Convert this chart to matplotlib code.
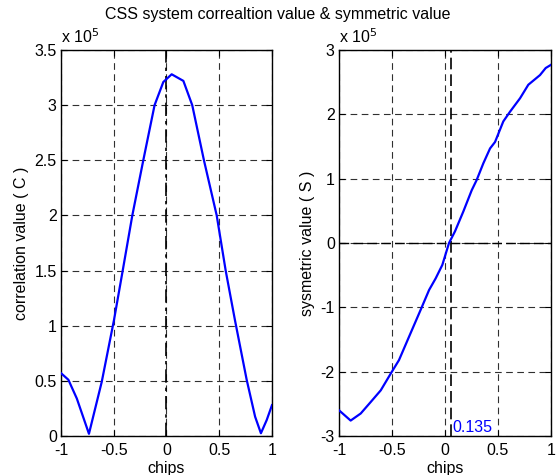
import numpy as np
import matplotlib
matplotlib.use("Agg")
import matplotlib.pyplot as plt

# correlation value C (units of 1e5) vs chip offset
corr_x = [-1.0, -0.93, -0.85, -0.735, -0.614, -0.498, -0.415, -0.324, -0.22, -0.113,
          -0.03, 0.049, 0.16, 0.244, 0.355, 0.476, 0.561, 0.649, 0.76, 0.84,
          0.895, 0.95, 1.0]
corr_y = [0.57, 0.51, 0.34, 0.02, 0.49, 1.05, 1.50, 2.00, 2.50, 3.00,
          3.21, 3.28, 3.22, 3.00, 2.50, 2.00, 1.50, 1.05, 0.51, 0.175,
          0.025, 0.145, 0.28]

# symmetric value S (units of 1e5) vs chip offset
sym_x = [-1.0, -0.89, -0.795, -0.70, -0.606, -0.512, -0.434, -0.34, -0.23, -0.15,
         -0.088, -0.025, 0.038, 0.094, 0.173, 0.252, 0.299, 0.362, 0.425, 0.472,
         0.55, 0.613, 0.708, 0.786, 0.896, 0.95, 1.0]
sym_y = [-2.60, -2.76, -2.65, -2.47, -2.29, -2.03, -1.82, -1.46, -1.04, -0.73,
         -0.55, -0.34, 0.0, 0.18, 0.49, 0.82, 0.98, 1.24, 1.47, 1.57,
         1.89, 2.04, 2.25, 2.46, 2.61, 2.72, 2.77]

marker_x = 0.054
marker_label = "0.135"

corr_ticks = [0, 0.5, 1, 1.5, 2, 2.5, 3, 3.5]
sym_ticks = [-3, -2, -1, 0, 1, 2, 3]
x_ticks = [-1, -0.5, 0, 0.5, 1]

plt.rcParams["font.family"] = ["Liberation Sans", "DejaVu Sans"]
plt.rcParams["font.size"] = 10

fig = plt.figure(figsize=(5.56, 4.75), dpi=100)
ax1 = fig.add_axes([0.1097, 0.0821, 0.3795, 0.8126])
ax2 = fig.add_axes([0.6097, 0.0821, 0.3813, 0.8126])

grid_kw = dict(color="#303030", linestyle=(0, (6, 4)), linewidth=0.8)


def style(ax, yticks, ylim):
    ax.set_xlim(-1, 1)
    ax.set_ylim(*ylim)
    ax.set_xticks(x_ticks)
    ax.set_xticklabels(["-1", "-0.5", "0", "0.5", "1"])
    ax.set_yticks(yticks)
    ax.set_yticklabels([f"{t:g}" for t in yticks])
    ax.tick_params(direction="in", length=4, width=0.8, top=True, right=True,
                   labelsize=11.5)
    ax.tick_params(axis="x", pad=5)
    ax.tick_params(axis="y", pad=3)
    ax.grid(True, **grid_kw)
    for s in ax.spines.values():
        s.set_linewidth(1.0)
    ax.set_xlabel("chips", fontsize=11.5, labelpad=2)
    ax.text(0, 1.01, "x 10$^5$", transform=ax.transAxes, fontsize=11.5,
            ha="left", va="bottom")


ax1.plot(corr_x, corr_y, color="#0000ff", linewidth=1.6, zorder=3)
ax1.axvline(0, color="black", linestyle=(0, (8, 3, 2, 3)), linewidth=1.2, zorder=2)
style(ax1, corr_ticks, (0, 3.5))
ax1.set_ylabel("correlation value ( C )", fontsize=11.5, labelpad=4)

ax2.plot(sym_x, sym_y, color="#0000ff", linewidth=1.6, zorder=3)
ax2.axvline(marker_x, color="black", linestyle=(0, (7, 3)), linewidth=1.2, zorder=2)
ax2.axhline(0, color="black", linestyle=(0, (7, 3)), linewidth=1.0, zorder=2)
ax2.text(marker_x + 0.02, -2.99, marker_label, color="#0000ff", fontsize=11.5,
         ha="left", va="bottom")
style(ax2, sym_ticks, (-3, 3))
ax2.set_ylabel("sysmetric value ( S )", fontsize=11.5, labelpad=4)

fig.suptitle("CSS system correaltion value & symmetric value", fontsize=11.5,
             y=0.985)

fig.savefig("out.png", dpi=100)
